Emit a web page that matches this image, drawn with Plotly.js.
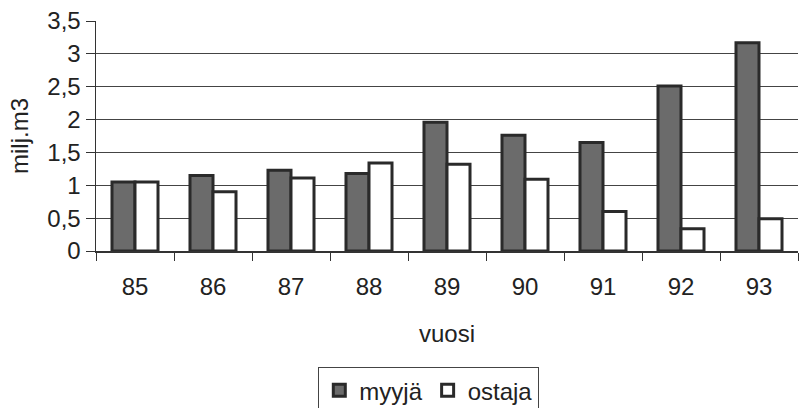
<!DOCTYPE html>
<html><head><meta charset="utf-8">
<script src="https://cdn.plot.ly/plotly-3.0.1.min.js"></script>
<style>html,body{margin:0;padding:0;background:#fff}</style>
</head><body><div id="chart" style="width:803px;height:408px"></div>
<script>
const years = ['85','86','87','88','89','90','91','92','93'];
const myyja = [1.05,1.15,1.23,1.18,1.96,1.76,1.65,2.51,3.17];
const ostaja = [1.05,0.90,1.11,1.34,1.32,1.09,0.60,0.34,0.49];
const yTicks = [0,0.5,1,1.5,2,2.5,3,3.5];
const gridTicks = [0.5,1,1.5,2,2.5,3];
const fnt = {family:'Liberation Sans, Arial, sans-serif', size:24, color:'#222'};
const data = [
 {type:'bar', x:years, y:myyja, name:'myyjä', marker:{color:'#6b6b6b', line:{color:'#2a2a2a', width:3}}},
 {type:'bar', x:years, y:ostaja, name:'ostaja', marker:{color:'#ffffff', line:{color:'#2a2a2a', width:3}}},
 {type:'scatter', x:years, y:years.map(()=>null), yaxis:'y2', showlegend:false, hoverinfo:'skip'}
];
const layout = {
 width:803, height:408, separators:', ',
 margin:{l:96, r:5, t:21, b:157, autoexpand:false},
 paper_bgcolor:'#fff', plot_bgcolor:'rgba(0,0,0,0)',
 font:fnt, barmode:'group', bargap:0.41, bargroupgap:0,
 xaxis:{type:'category', automargin:false, showline:true, linecolor:'#333', linewidth:1.5, ticks:'outside', tickson:'boundaries', ticklen:8, tickcolor:'#333', showgrid:false, tickfont:fnt, ticklabelstandoff:14,
   title:{text:'vuosi', font:fnt, standoff:26}},
 yaxis:{range:[0,3.5], automargin:false, tickvals:yTicks, showgrid:false, zeroline:false, showline:true, linecolor:'#333', linewidth:1.5, ticks:'outside', ticklen:9, tickcolor:'#333', tickfont:fnt,
   title:{text:'milj.m3', font:fnt, standoff:12}},
 yaxis2:{overlaying:'y', range:[0,3.5], tickvals:gridTicks, showgrid:true, gridcolor:'#444', gridwidth:1.2, showticklabels:false, zeroline:false, showline:false, ticks:'', layer:'below traces'},
 legend:{orientation:'h', xref:'container', yref:'container', x:0.534, xanchor:'center', y:0.1, yanchor:'top', bordercolor:'#444', borderwidth:1, font:fnt, itemwidth:20, tracegroupgap:0},
 showlegend:true
};
Plotly.newPlot('chart', data, layout, {staticPlot:true});
</script></body></html>
